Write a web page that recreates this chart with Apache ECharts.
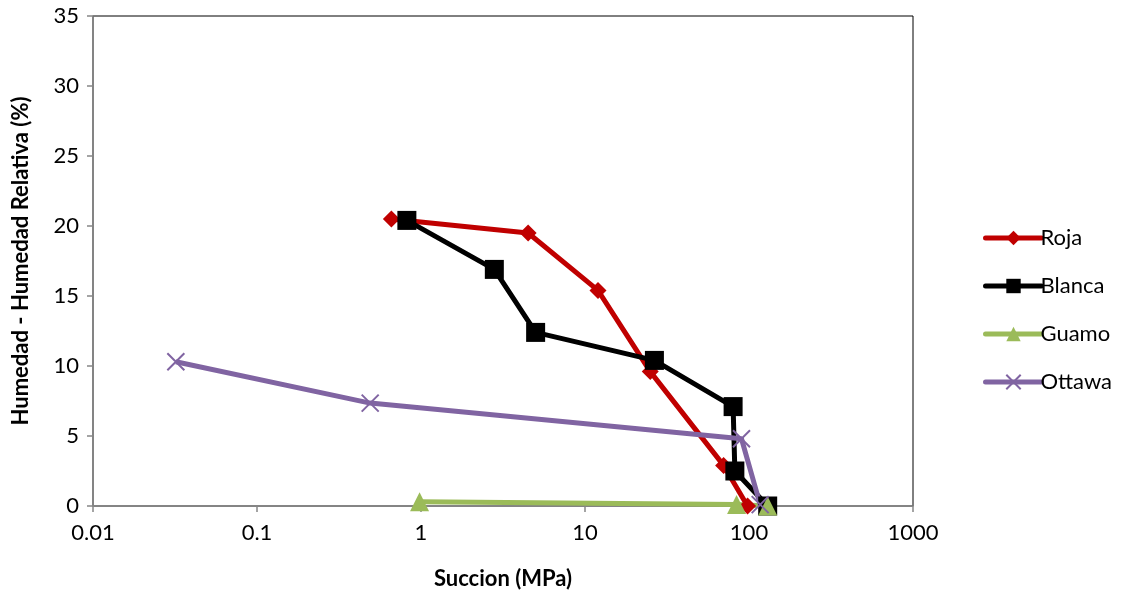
<!DOCTYPE html>
<html>
<head>
<meta charset="utf-8">
<script src="https://cdn.jsdelivr.net/npm/echarts@6/dist/echarts.min.js"></script>
<style>
  html, body { margin: 0; padding: 0; background: #fff; }
  #chart { width: 1124px; height: 596px; }
</style>
</head>
<body>
<div id="chart"></div>
<script>
// Suction (MPa) vs. water content minus relative humidity (%)
const rojaX = [0.66, 4.5, 12.0, 25.0, 70.0, 98.0];
const rojaY = [20.5, 19.5, 15.4, 9.6, 2.9, 0.0];

const blancaX = [0.82, 2.8, 5.0, 26.5, 80.0, 82.0, 130.0];
const blancaY = [20.4, 16.9, 12.4, 10.4, 7.1, 2.5, 0.0];

const guamoX = [0.98, 84.0, 130.0];
const guamoY = [0.3, 0.1, 0.0];

const ottawaX = [0.032, 0.49, 90.0, 117.0];
const ottawaY = [10.3, 7.35, 4.8, 0.1];

const xTickLabels = ['0.01', '0.1', '1', '10', '100', '1000'];
const seriesNames = ['Roja', 'Blanca', 'Guamo', 'Ottawa'];

const pairs = (xs, ys) => xs.map((x, i) => [x, ys[i]]);

const FONT = 'Lato';
const axisGray = '#868686';
const crossPath = 'path://M0,0 L10,10 M10,0 L0,10';

const chart = echarts.init(document.getElementById('chart'), null, { renderer: 'canvas' });

chart.setOption({
  animation: false,
  backgroundColor: '#ffffff',
  textStyle: { fontFamily: FONT },
  grid: {
    left: 93, right: 211, top: 16, bottom: 90,
    show: true, borderColor: '#000000', borderWidth: 1, backgroundColor: 'transparent'
  },
  legend: {
    orient: 'vertical',
    left: 978, top: 222,
    itemWidth: 56, itemHeight: 18, itemGap: 26,
    lineStyle: { width: 5, cap: 'round' },
    textStyle: { fontSize: 22, color: '#000', fontFamily: FONT, padding: [0, 0, 0, -6], height: 18, lineHeight: 18 },
    data: seriesNames
  },
  xAxis: {
    type: 'log', logBase: 10, min: 0.01, max: 1000,
    name: 'Succion (MPa)', nameLocation: 'middle', nameGap: 62,
    nameTextStyle: { fontSize: 22, fontWeight: 'bold', color: '#000', fontFamily: FONT },
    axisLine: { show: true, lineStyle: { color: axisGray, width: 1.5 } },
    axisTick: { show: true, inside: false, length: 6, lineStyle: { color: axisGray, width: 1.5 } },
    minorTick: { show: false },
    splitLine: { show: false },
    axisLabel: {
      fontSize: 22, color: '#000', margin: 16, fontFamily: FONT,
      formatter: (v) => {
        const k = Math.round(Math.log10(v)) + 2;
        return xTickLabels[k] !== undefined ? xTickLabels[k] : '';
      }
    }
  },
  yAxis: {
    type: 'value', min: 0, max: 35, interval: 5,
    name: 'Humedad - Humedad Relativa (%)', nameLocation: 'middle', nameGap: 61,
    nameTextStyle: { fontSize: 22, fontWeight: 'bold', color: '#000', fontFamily: FONT },
    axisLine: { show: true, lineStyle: { color: axisGray, width: 1.5 } },
    axisTick: { show: true, inside: false, length: 6, lineStyle: { color: axisGray, width: 1.5 } },
    splitLine: { show: false },
    axisLabel: { fontSize: 22, color: '#000', margin: 14, fontFamily: FONT }
  },
  series: [
    {
      name: 'Roja', type: 'line', data: pairs(rojaX, rojaY),
      symbol: 'diamond', symbolSize: 17,
      lineStyle: { color: '#c00000', width: 5 },
      itemStyle: { color: '#c00000' }
    },
    {
      name: 'Blanca', type: 'line', data: pairs(blancaX, blancaY),
      symbol: 'rect', symbolSize: 19,
      lineStyle: { color: '#000000', width: 5 },
      itemStyle: { color: '#000000' }
    },
    {
      name: 'Guamo', type: 'line', data: pairs(guamoX, guamoY),
      symbol: 'triangle', symbolSize: 19,
      lineStyle: { color: '#9bbb59', width: 5 },
      itemStyle: { color: '#9bbb59' }
    },
    {
      name: 'Ottawa', type: 'line', data: pairs(ottawaX, ottawaY),
      symbol: crossPath, symbolSize: 17,
      lineStyle: { color: '#8064a2', width: 5 },
      itemStyle: { color: '#8064a2', borderColor: '#8064a2', borderWidth: 2 }
    }
  ]
});
</script>
</body>
</html>
